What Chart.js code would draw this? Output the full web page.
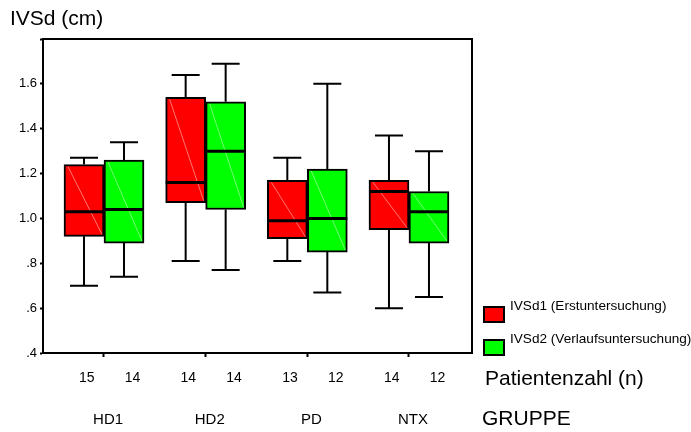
<!DOCTYPE html>
<html>
<head>
<meta charset="utf-8">
<title>IVSd Boxplot</title>
<script src="https://cdn.jsdelivr.net/npm/chart.js@4.4.1/dist/chart.umd.min.js"></script>
<style>
  html, body { margin: 0; padding: 0; background: #fff; }
  #wrap { width: 691px; height: 432px; position: relative; }
</style>
</head>
<body>
<div id="wrap"><canvas id="boxChart"></canvas></div>
<script>
// ── Data ────────────────────────────────────────────────────────
const groups = ['HD1', 'HD2', 'PD', 'NTX'];
const seriesNames = ['IVSd1 (Erstuntersuchung)', 'IVSd2 (Verlaufsuntersuchung)'];
const counts1 = [15, 14, 13, 14];
const counts2 = [14, 14, 12, 12];
// each entry: [min, q1, median, q3, max]
const ivsd1 = [
  [0.70, 0.92, 1.03, 1.24, 1.27],
  [0.81, 1.07, 1.16, 1.54, 1.64],
  [0.81, 0.91, 0.99, 1.17, 1.27],
  [0.60, 0.95, 1.12, 1.17, 1.37]
];
const ivsd2 = [
  [0.74, 0.89, 1.04, 1.26, 1.34],
  [0.77, 1.04, 1.30, 1.52, 1.69],
  [0.67, 0.85, 1.00, 1.22, 1.60],
  [0.65, 0.89, 1.03, 1.12, 1.30]
];
const yTickValues = [0.4, 0.6, 0.8, 1.0, 1.2, 1.4, 1.6, 1.8];

const colors = ['#ff0000', '#00ff00'];
const FONT = "'Liberation Sans', Arial, sans-serif";

// ── Whiskers, medians, frame and labels ─────────────────────────
const boxExtras = {
  id: 'boxExtras',
  afterDatasetsDraw(chart) {
    const ctx = chart.ctx;
    const y = chart.scales.y;
    [ivsd1, ivsd2].forEach((stats, di) => {
      chart.getDatasetMeta(di).data.forEach((bar, i) => {
        const [lo, q1, med, q3, hi] = stats[i];
        const x = bar.x, half = bar.width / 2;
        const pLo = y.getPixelForValue(lo), pQ1 = y.getPixelForValue(q1);
        const pQ3 = y.getPixelForValue(q3), pHi = y.getPixelForValue(hi);
        const pMed = y.getPixelForValue(med);
        ctx.save();
        // faint diagonal inside the box
        ctx.strokeStyle = 'rgba(255,255,255,0.45)';
        ctx.lineWidth = 1;
        ctx.beginPath();
        ctx.moveTo(x - half + 4, pQ3 + 2);
        ctx.lineTo(x + half - 2, pQ1 - 2);
        ctx.stroke();
        // whiskers
        ctx.strokeStyle = '#000';
        ctx.lineWidth = 2;
        ctx.beginPath();
        ctx.moveTo(x, pQ3); ctx.lineTo(x, pHi);
        ctx.moveTo(x, pQ1); ctx.lineTo(x, pLo);
        ctx.moveTo(x - 14, pHi); ctx.lineTo(x + 14, pHi);
        ctx.moveTo(x - 14, pLo); ctx.lineTo(x + 14, pLo);
        ctx.stroke();
        // median
        ctx.lineWidth = 3;
        ctx.beginPath();
        ctx.moveTo(x - half, pMed); ctx.lineTo(x + half, pMed);
        ctx.stroke();
        ctx.restore();
      });
    });
  },
  afterDraw(chart) {
    const ctx = chart.ctx;
    const a = chart.chartArea;
    const xs = chart.scales.x;
    ctx.save();
    // frame
    ctx.strokeStyle = '#000';
    ctx.lineWidth = 2;
    ctx.strokeRect(a.left, a.top, a.right - a.left, a.bottom - a.top);

    ctx.fillStyle = '#000';
    ctx.textBaseline = 'middle';

    // y axis title
    ctx.textAlign = 'left';
    ctx.font = '21px ' + FONT;
    ctx.fillText('IVSd (cm)', 10, 19);

    // patient counts + groups
    ctx.textAlign = 'center';
    ctx.font = '14px ' + FONT;
    groups.forEach((g, i) => {
      ctx.fillText(String(counts1[i]), xs.getPixelForValue(i + 1 - 0.17), 378);
      ctx.fillText(String(counts2[i]), xs.getPixelForValue(i + 1 + 0.28), 378);
    });
    ctx.font = '15px ' + FONT;
    groups.forEach((g, i) => {
      ctx.fillText(g, xs.getPixelForValue(i + 1 + 0.04), 420);
    });

    ctx.textAlign = 'left';
    ctx.font = '21px ' + FONT;
    ctx.fillText('Patientenzahl (n)', 485, 379);
    ctx.fillText('GRUPPE', 482, 419);

    // legend
    ctx.font = '13.6px ' + FONT;
    const legendRows = [306, 339];
    seriesNames.forEach((name, i) => {
      const ty = legendRows[i];
      ctx.fillStyle = colors[i];
      ctx.fillRect(484, ty + 1, 20, 15);
      ctx.strokeStyle = '#000';
      ctx.lineWidth = 2;
      ctx.strokeRect(484, ty + 1, 20, 15);
      ctx.fillStyle = '#000';
      ctx.fillText(name, 510, ty);
    });
    ctx.restore();
  }
};

// ── Chart ───────────────────────────────────────────────────────
new Chart(document.getElementById('boxChart'), {
  type: 'bar',
  data: {
    datasets: [ivsd1, ivsd2].map((stats, di) => ({
      label: seriesNames[di],
      data: stats.map((s, i) => ({ x: i + 1, y: [s[1], s[3]] })),
      backgroundColor: colors[di],
      borderColor: '#000',
      borderWidth: 2,
      borderSkipped: false,
      barThickness: 40
    }))
  },
  options: {
    responsive: true,
    maintainAspectRatio: false,
    animation: false,
    layout: { padding: { top: 39, right: 219, left: 0, bottom: 0 } },
    plugins: { legend: { display: false }, tooltip: { enabled: false } },
    scales: {
      x: {
        type: 'linear',
        offset: false,
        min: 0.4,
        max: 4.62,
        afterBuildTicks: s => { s.ticks = groups.map((g, i) => ({ value: i + 1 })); },
        afterFit: s => { s.height = 79; },
        ticks: { display: false },
        grid: { offset: false, drawOnChartArea: false, color: '#000', tickLength: 4, tickWidth: 2 },
        border: { color: '#000', width: 2 }
      },
      y: {
        min: 0.4,
        max: 1.8,
        afterBuildTicks: s => { s.ticks = yTickValues.map(v => ({ value: v })); },
        afterFit: s => { s.width = 43; },
        ticks: {
          color: '#000',
          padding: 3,
          font: { family: FONT, size: 13 },
          callback: v => v >= 1.75 ? '' : Number(v).toFixed(1).replace(/^0/, '')
        },
        grid: { drawOnChartArea: false, color: '#000', tickLength: 3, tickWidth: 2 },
        border: { color: '#000', width: 2 }
      }
    }
  },
  plugins: [boxExtras]
});
</script>
</body>
</html>
